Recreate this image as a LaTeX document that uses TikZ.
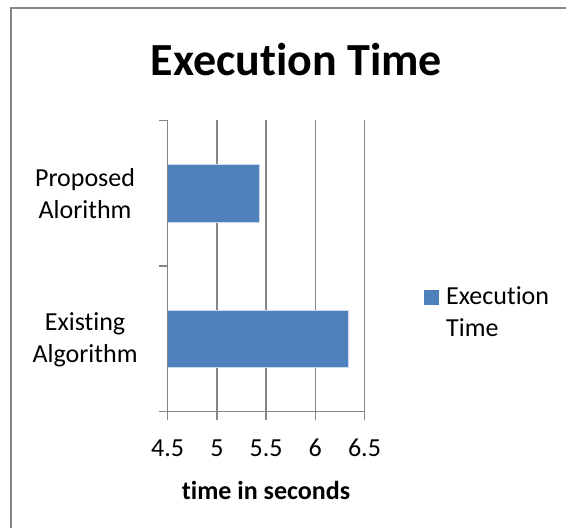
\documentclass[tikz,border=0pt]{standalone}
\usepackage{fontspec}
\setmainfont{Carlito}[RawFeature={-liga}]
\usepackage{tikz}
\usetikzlibrary{positioning}
\definecolor{balkenblau}{RGB}{79,129,189}
\definecolor{gittergrau}{RGB}{134,134,134}

\begin{document}
\begin{tikzpicture}[x=1pt, y=1pt,
  gitter/.style={line width=1.5pt, color=gittergrau},
  balken/.style={fill=balkenblau, draw=white!70!balkenblau, line width=0.8pt},
  beschriftung/.style={font=\fontsize{26}{32}\selectfont, inner sep=0pt}]
\def\xmin{4.5}
\useasboundingbox (0,0) rectangle (566,528);

% Rahmen
\draw[line width=1.5pt, color=gittergrau] (11,-2) -- (11,520) -- (566,520);

% Titel
\node[font=\fontsize{46}{55}\selectfont\bfseries, anchor=base, inner sep=0pt] (titel) at (296.5,452) {Execution Time};

\begin{scope}[shift={(167.7,116.3)}, x=98.4pt, y=145.7pt]
% Gitternetzlinien
\foreach \x in {5,5.5,6,6.5}
\draw[gitter] ({\x-\xmin},0) -- ({\x-\xmin},2);

% Balken
\draw[balken] (0,0.302) rectangle ({6.34-\xmin},0.698);
\draw[balken] (0,1.300) rectangle ({5.43-\xmin},1.698);

% y-Achse
\draw[gitter] (0,0) -- (0,2);
\foreach \y in {0,1,2}
\draw[gitter] (0,\y) -- ++(-8.5pt,0);

% x-Achse
\draw[gitter] (-8.5pt,0) -- (2,0);
%Zahlen auf x-Achse
\foreach \x [count=\i] in {4.5,5,5.5,6,6.5}{
\draw[gitter] ({\x-\xmin},0) -- ++(0,-8.5pt);
\node[beschriftung, anchor=base, yshift=-45.3pt] (zahl\i) at ({\x-\xmin},0) {\x};
}

% Kategorien
\node[beschriftung, align=center] (vorschlag) at (-0.84,1.5) {Proposed\\Alorithm};
\node[beschriftung, align=center] (bestand) at (-0.84,0.496) {Existing\\Algorithm};
\end{scope}

% Achsentitel
\node[beschriftung, font=\fontsize{26}{32}\selectfont\bfseries, anchor=base] (achsentitel) at (266,28) {time in seconds};

% Legende
\fill[balkenblau] (424,223) rectangle (439,238);
\node[beschriftung, align=left, anchor=west] (legende) at (446,216) {Execution\\Time};
\end{tikzpicture}
\end{document}
